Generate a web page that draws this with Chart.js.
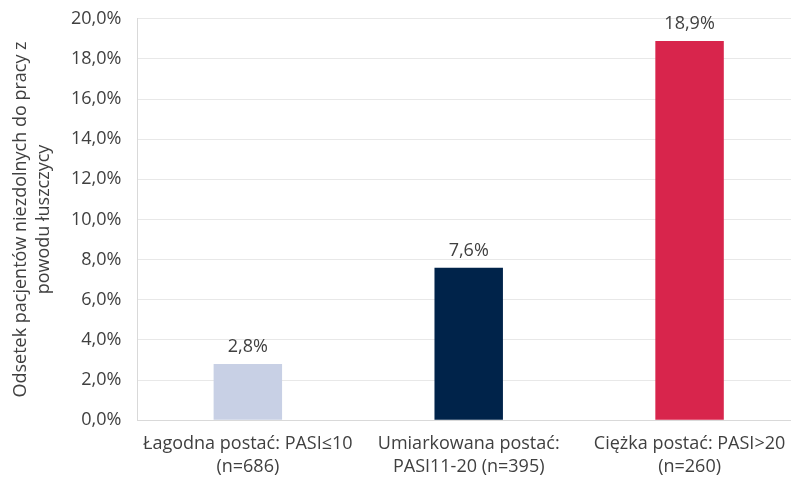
<!DOCTYPE html>
<html>
<head>
<meta charset="utf-8">
<script src="https://cdn.jsdelivr.net/npm/chart.js@4/dist/chart.umd.min.js"></script>
<style>
  html, body { margin: 0; padding: 0; background: #fff; overflow: hidden; }
  .chart-container { position: relative; width: 800px; height: 492px; margin-top: -8px; }
</style>
</head>
<body>
<div class="chart-container">
  <canvas id="wykres"></canvas>
</div>
<script>
// grupy pacjentów wg nasilenia łuszczycy
const kategorie = [
    ['Łagodna postać: PASI≤10', '(n=686)'],
    ['Umiarkowana postać:', 'PASI11-20 (n=395)'],
    ['Ciężka postać: PASI>20', '(n=260)']
];
const odsetek = [2.8, 7.6, 18.9];
const kolory = ['#c8d0e5', '#00234a', '#d8254c'];
const tytulOsiY = ['Odsetek pacjentów niezdolnych do pracy z', 'powodu łuszczycy'];

const czcionka = '"Open Sans", sans-serif';

const fmt = function(v){
    return v.toFixed(1).replace('.', ',') + '%';
};

// etykiety wartości nad słupkami
const etykiety = {
    id: 'etykiety',
    afterDatasetsDraw: function(chart){
        const ctx = chart.ctx;
        const meta = chart.getDatasetMeta(0);
        ctx.save();
        ctx.font = '18px ' + czcionka;
        ctx.fillStyle = '#404040';
        ctx.textAlign = 'center';
        ctx.textBaseline = 'bottom';
        meta.data.forEach(function(bar, i){
            ctx.fillText(fmt(odsetek[i]), bar.x, bar.y - 8);
        });
        ctx.restore();
    }
};

const ctx = document.getElementById('wykres').getContext('2d');

new Chart(ctx, {
    type: 'bar',
    data: {
        labels: kategorie,
        datasets: [{
            data: odsetek,
            backgroundColor: kolory,
            barPercentage: 0.31,
            categoryPercentage: 1
        }]
    },
    options: {
        responsive: true,
        maintainAspectRatio: false,
        animation: false,
        layout: {
            padding: { top: 0, right: 0, bottom: -7, left: 10 }
        },
        plugins: {
            legend: { display: false },
            tooltip: { enabled: false }
        },
        scales: {
            x: {
                grid: { display: false, drawTicks: false },
                border: { color: '#d9d9d9' },
                ticks: {
                    color: '#404040',
                    font: { family: czcionka, size: 18, lineHeight: 1.3 },
                    padding: 12,
                    maxRotation: 0,
                    autoSkip: false
                }
            },
            y: {
                min: 0,
                max: 20,
                grid: { color: '#e8e8e8', drawTicks: false },
                border: { color: '#d9d9d9' },
                ticks: {
                    stepSize: 2,
                    color: '#404040',
                    font: { family: czcionka, size: 18 },
                    padding: 16,
                    callback: function(v){ return fmt(v); }
                },
                title: {
                    display: true,
                    text: tytulOsiY,
                    color: '#404040',
                    font: { family: czcionka, size: 18, lineHeight: 1.25 },
                    padding: { top: 0, bottom: 0 }
                }
            }
        }
    },
    plugins: [etykiety]
});
</script>
</body>
</html>
